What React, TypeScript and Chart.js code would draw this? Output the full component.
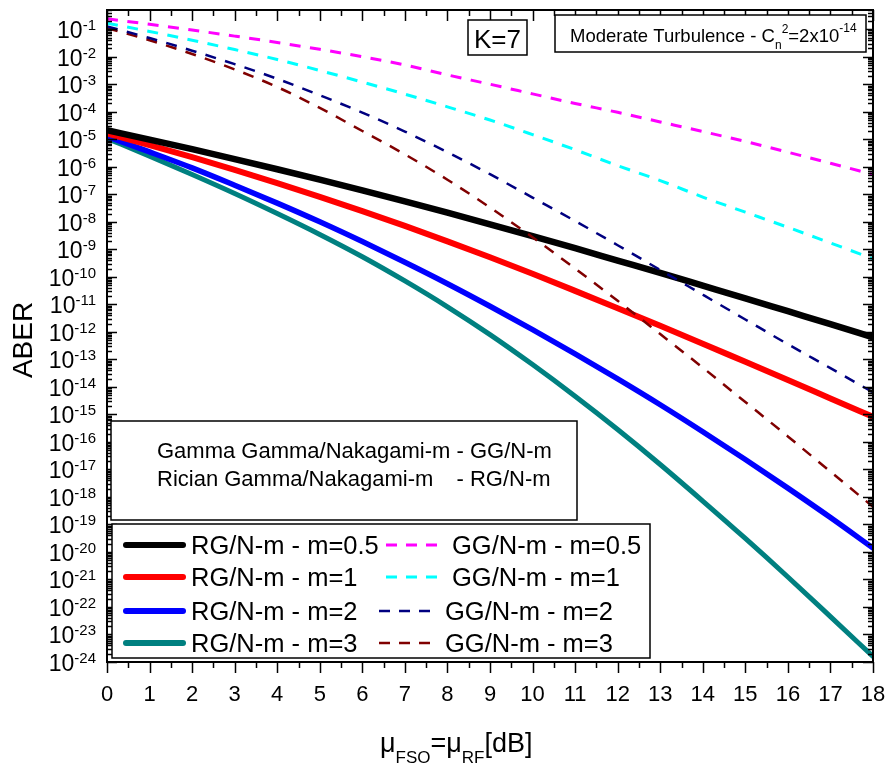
import React, { useEffect, useRef } from 'react';
import { Chart, registerables } from 'chart.js';

Chart.register(...registerables);

const FONT = '"Liberation Sans", Arial, sans-serif';

// x axis: mu_FSO = mu_RF [dB]
const xValues = [0, 1, 2, 3, 4, 5, 6, 7, 8, 9, 10, 11, 12, 13, 14, 15, 16, 17, 18];
const xTickLabels = ['0', '1', '2', '3', '4', '5', '6', '7', '8', '9', '10', '11', '12', '13', '14', '15', '16', '17', '18'];
const yTickExponents = [-1, -2, -3, -4, -5, -6, -7, -8, -9, -10, -11, -12, -13, -14, -15, -16, -17, -18, -19, -20, -21, -22, -23, -24];

// Rician Gamma / Nakagami-m (solid)
const rgM05 = [2.14e-5, 9.77e-6, 4.37e-6, 1.91e-6, 8.13e-7, 3.39e-7, 1.38e-7, 5.5e-8, 2.14e-8, 8.13e-9, 3.02e-9, 1.1e-9, 3.89e-10, 1.38e-10, 4.79e-11, 1.66e-11, 5.62e-12, 1.91e-12, 6.31e-13];
const rgM1 = [1.62e-5, 6.17e-6, 2.24e-6, 7.76e-7, 2.57e-7, 8.13e-8, 2.45e-8, 7.08e-9, 1.95e-9, 5.13e-10, 1.29e-10, 3.09e-11, 7.24e-12, 1.66e-12, 3.72e-13, 8.13e-14, 1.78e-14, 3.8e-15, 8.13e-16];
const rgM2 = [1.26e-5, 3.47e-6, 9.12e-7, 2.14e-7, 4.79e-8, 1.0e-8, 1.91e-9, 3.39e-10, 5.62e-11, 8.51e-12, 1.2e-12, 1.58e-13, 1.95e-14, 2.24e-15, 2.34e-16, 2.29e-17, 2.09e-18, 1.78e-19, 1.38e-20];
const rgM3 = [1.07e-5, 2.45e-6, 5.25e-7, 1.07e-7, 2.0e-8, 3.47e-9, 5.37e-10, 7.08e-11, 8.13e-12, 7.94e-13, 6.46e-14, 4.57e-15, 2.82e-16, 1.51e-17, 7.08e-19, 3.09e-20, 1.23e-21, 4.47e-23, 1.58e-24];

// Gamma Gamma / Nakagami-m (dashed)
const ggM05 = [0.24, 0.151, 0.0933, 0.0562, 0.0331, 0.0186, 0.01, 5.01e-3, 2.19e-3, 1.0e-3, 4.47e-4, 2.0e-4, 9.55e-5, 4.27e-5, 1.91e-5, 8.32e-6, 3.39e-6, 1.35e-6, 5.25e-7];
const ggM1 = [0.166, 0.0832, 0.0398, 0.0182, 7.94e-3, 3.16e-3, 1.2e-3, 4.37e-4, 1.51e-4, 5.01e-5, 1.48e-5, 4.17e-6, 1.1e-6, 3.16e-7, 7.94e-8, 2.24e-8, 6.31e-9, 1.7e-9, 4.57e-10];
const ggM2 = [0.126, 0.0479, 0.0166, 5.37e-3, 1.58e-3, 3.98e-4, 9.33e-5, 1.91e-5, 3.39e-6, 5.37e-7, 7.59e-8, 1.07e-8, 1.41e-9, 1.78e-10, 2.24e-11, 2.82e-12, 3.55e-13, 4.79e-14, 6.31e-15];
const ggM3 = [0.11, 0.0398, 0.0126, 3.47e-3, 7.94e-4, 1.38e-4, 2.0e-5, 2.82e-6, 3.39e-7, 3.31e-8, 2.75e-9, 2.0e-10, 1.35e-11, 8.32e-13, 5.01e-14, 2.82e-15, 1.58e-16, 8.32e-18, 4.37e-19];

const rgLabels = ['RG/N-m - m=0.5', 'RG/N-m - m=1', 'RG/N-m - m=2', 'RG/N-m - m=3'];
const ggLabels = ['GG/N-m - m=0.5', 'GG/N-m - m=1', 'GG/N-m - m=2', 'GG/N-m - m=3'];
const rgColors = ['#000000', '#ff0000', '#0000ff', '#008080'];
const ggColors = ['#ff00ff', '#00ffff', '#000080', '#800000'];

const Y_MIN = 1e-24;
const Y_MAX = 0.5;

const toPoints = (arr: number[]) => arr.map((v, i) => ({ x: xValues[i], y: v }));

const decorPlugin = {
  id: 'decor',
  afterDatasetsDraw(chart: any) {
    const { ctx, chartArea: a } = chart;
    const xs = chart.scales.x;
    const ys = chart.scales.y;
    ctx.save();
    ctx.fillStyle = '#000';
    ctx.strokeStyle = '#000';

    // ticks
    ctx.lineWidth = 1.5;
    ctx.beginPath();
    for (let v = 0; v <= 18.001; v += 0.5) {
      const px = Math.round(xs.getPixelForValue(v)) + 0.5;
      const major = Math.abs(v - Math.round(v)) < 1e-6;
      ctx.moveTo(px, a.bottom);
      ctx.lineTo(px, a.bottom + (major ? 11 : 6));
      ctx.moveTo(px, a.top);
      ctx.lineTo(px, a.top + (major ? 11 : 6));
    }
    for (let e = -24; e <= 0; e++) {
      for (let m = 1; m <= 9; m++) {
        const v = m * Math.pow(10, e);
        if (v < Y_MIN * 0.999 || v > Y_MAX * 1.001) continue;
        const py = Math.round(ys.getPixelForValue(v)) + 0.5;
        const len = m === 1 ? 10 : 5;
        ctx.moveTo(a.left, py);
        ctx.lineTo(a.left + len, py);
        ctx.moveTo(a.right, py);
        ctx.lineTo(a.right - len, py);
      }
    }
    ctx.stroke();

    // frame
    ctx.lineWidth = 2;
    ctx.strokeRect(a.left, a.top, a.right - a.left, a.bottom - a.top);

    // x tick labels
    ctx.font = `22px ${FONT}`;
    ctx.textAlign = 'center';
    ctx.textBaseline = 'alphabetic';
    xTickLabels.forEach((t, i) => {
      ctx.fillText(t, xs.getPixelForValue(xValues[i]), a.bottom + 39);
    });

    // y tick labels 10^n
    ctx.textAlign = 'right';
    yTickExponents.forEach((e) => {
      const py = ys.getPixelForValue(Math.pow(10, e));
      ctx.font = `15px ${FONT}`;
      const ex = String(e);
      const ew = ctx.measureText(ex).width;
      ctx.fillText(ex, 96, py + 1);
      ctx.font = `23px ${FONT}`;
      ctx.fillText('10', 96 - ew, py + 9);
    });

    // x title
    ctx.textAlign = 'left';
    let cx = 380;
    const parts: [string, number, number][] = [
      ['\u03bc', 27, 752], ['FSO', 17, 763], ['=\u03bc', 27, 752], ['RF', 17, 763], ['[dB]', 27, 752],
    ];
    parts.forEach(([t, s, b]) => {
      ctx.font = `${s}px ${FONT}`;
      ctx.fillText(t, cx, b);
      cx += ctx.measureText(t).width;
    });

    // y title
    ctx.save();
    ctx.translate(32, 340);
    ctx.rotate(-Math.PI / 2);
    ctx.textAlign = 'center';
    ctx.font = `28px ${FONT}`;
    ctx.fillText('ABER', 0, 0);
    ctx.restore();

    const box = (x1: number, y1: number, x2: number, y2: number) => {
      ctx.fillStyle = '#fff';
      ctx.fillRect(x1, y1, x2 - x1, y2 - y1);
      ctx.strokeStyle = '#000';
      ctx.lineWidth = 1.5;
      ctx.strokeRect(x1, y1, x2 - x1, y2 - y1);
      ctx.fillStyle = '#000';
    };

    // K=7 box
    box(468, 20, 527, 55);
    ctx.textAlign = 'center';
    ctx.font = `26px ${FONT}`;
    ctx.fillText('K=7', 497.5, 48);

    // Turbulence box
    box(555, 15, 866, 52);
    ctx.textAlign = 'left';
    let tx = 570;
    const tparts: [string, number, number][] = [
      ['Moderate Turbulence - C', 18.5, 42], ['n', 12, 49], ['2', 12, 33], ['=2x10', 18.5, 42], ['-14', 12, 32],
    ];
    tparts.forEach(([t, s, b]) => {
      ctx.font = `${s}px ${FONT}`;
      ctx.fillText(t, tx, b);
      tx += ctx.measureText(t).width;
    });

    // abbreviation box
    box(111, 421, 577, 520);
    ctx.font = `22px ${FONT}`;
    ctx.fillText('Gamma Gamma/Nakagami-m - GG/N-m', 157, 458);
    ctx.fillText('Rician Gamma/Nakagami-m', 157, 486);
    const dashX = 157 + ctx.measureText('Gamma Gamma/Nakagami-m ').width;
    ctx.fillText('- RG/N-m', dashX, 486);

    // legend box
    box(112, 524, 650, 658);
    const rows = [545, 577, 611, 643];
    const ds = chart.data.datasets;
    rows.forEach((ry, i) => {
      const rg = ds[i];
      ctx.save();
      ctx.strokeStyle = rg.borderColor;
      ctx.lineWidth = 6;
      ctx.lineCap = 'round';
      ctx.beginPath();
      ctx.moveTo(126, ry);
      ctx.lineTo(183, ry);
      ctx.stroke();
      ctx.restore();
      ctx.font = `25.5px ${FONT}`;
      ctx.fillStyle = '#000';
      ctx.fillText(rg.label, 191, ry + 9);

      const gg = ds[i + 4];
      const d0 = i < 2 ? 386 : 379;
      ctx.save();
      ctx.strokeStyle = gg.borderColor;
      ctx.lineWidth = gg.borderWidth;
      ctx.setLineDash([11, 9]);
      ctx.beginPath();
      ctx.moveTo(d0, ry);
      ctx.lineTo(d0 + 51, ry);
      ctx.stroke();
      ctx.restore();
      ctx.fillText(gg.label, i < 2 ? 452 : 445, ry + 9);
    });

    ctx.restore();
  },
};

export default function App() {
  const canvasRef = useRef<HTMLCanvasElement | null>(null);

  useEffect(() => {
    if (!canvasRef.current) return;
    const rgData = [rgM05, rgM1, rgM2, rgM3];
    const ggData = [ggM05, ggM1, ggM2, ggM3];
    const rgWidths = [6.5, 6, 5.5, 5];
    const ggWidths = [3, 3, 2.5, 2.5];
    const datasets: any[] = [
      ...rgData.map((d, i) => ({
        label: rgLabels[i],
        data: toPoints(d),
        borderColor: rgColors[i],
        backgroundColor: rgColors[i],
        borderWidth: rgWidths[i],
        pointRadius: 0,
        fill: false,
        cubicInterpolationMode: 'monotone',
        borderCapStyle: 'round',
        borderJoinStyle: 'round',
        order: 2,
      })),
      ...ggData.map((d, i) => ({
        label: ggLabels[i],
        data: toPoints(d),
        borderColor: ggColors[i],
        backgroundColor: ggColors[i],
        borderWidth: ggWidths[i],
        borderDash: [11, 9.5],
        pointRadius: 0,
        fill: false,
        cubicInterpolationMode: 'monotone',
        order: 1,
      })),
    ];
    const chart = new Chart(canvasRef.current, {
      type: 'line',
      data: { datasets },
      options: {
        responsive: false,
        animation: false,
        devicePixelRatio: 1,
        layout: { padding: { left: 107, right: 16, top: 10, bottom: 102 } },
        plugins: { legend: { display: false }, tooltip: { enabled: false }, title: { display: false } },
        scales: {
          x: { type: 'linear', min: 0, max: 18, display: false },
          y: { type: 'logarithmic', min: Y_MIN, max: Y_MAX, display: false },
        },
      } as any,
      plugins: [decorPlugin],
    });
    return () => chart.destroy();
  }, []);

  return (
    <div style={{ position: 'absolute', left: 0, top: 0, width: 889, height: 764, background: '#fff' }}>
      <canvas ref={canvasRef} width={889} height={764} style={{ display: 'block' }} />
    </div>
  );
}
